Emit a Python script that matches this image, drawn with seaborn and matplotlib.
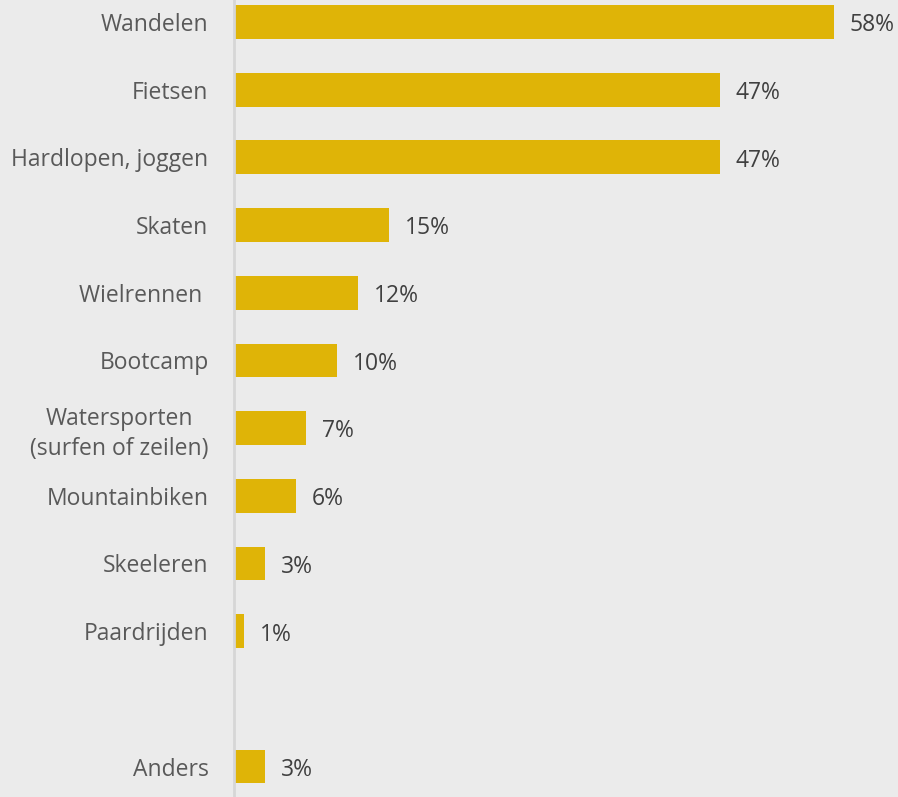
import matplotlib
matplotlib.use("Agg")
import matplotlib.pyplot as plt
import seaborn as sns
import pandas as pd

categories = ["Wandelen", "Fietsen", "Hardlopen, joggen", "Skaten", "Wielrennen ",
              "Bootcamp", "Watersporten\n(surfen of zeilen)", "Mountainbiken",
              "Skeeleren", "Paardrijden", "Anders"]
values = [58, 47, 47, 15, 12, 10, 7, 6, 3, 1, 3]
# an empty slot separates "Anders" from the listed sports
order = categories[:-1] + [" "] + categories[-1:]

df = pd.DataFrame({"activiteit": categories, "pct": values})

sns.set_theme(style="white")
plt.rcParams["font.family"] = ["Open Sans", "DejaVu Sans"]

bg = "#ebebeb"
bar_color = "#dfb407"
fs = 16.5

fig = plt.figure(figsize=(8.98, 7.97), dpi=100, facecolor=bg)
ax = fig.add_axes([233.5 / 898, 0, 1 - 233.5 / 898, 1])
ax.set_facecolor(bg)

sns.barplot(data=df, x="pct", y="activiteit", order=order, orient="h",
            color=bar_color, saturation=1, width=0.5, linewidth=0, ax=ax)

ax.set_xlim(0, (898 - 233.5) / 10.35)
ax.set_ylim(11.45, -0.325)

for cat, v in zip(categories, values):
    ax.text(v + 16 / 10.35, order.index(cat) + 0.05, f"{v}%", va="center", ha="left",
            fontsize=fs, color="#404040")

ax.set_xlabel("")
ax.set_ylabel("")
ax.set_xticks([])
ax.tick_params(axis="y", length=0, pad=18, labelsize=fs, labelcolor="#595959")
for lbl in ax.get_yticklabels():
    lbl.set_multialignment("center")
    lbl.set_linespacing(1.35)

for side in ["top", "right", "bottom"]:
    ax.spines[side].set_visible(False)
ax.spines["left"].set_color("#d6d6d6")
ax.spines["left"].set_linewidth(2)

fig.savefig("out.png", dpi=100, facecolor=bg)
